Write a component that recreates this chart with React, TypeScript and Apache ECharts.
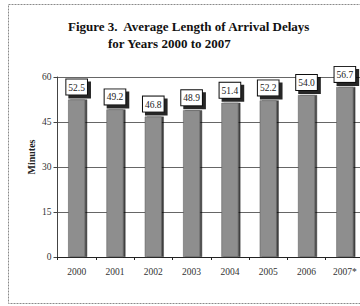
import React, { useEffect, useRef } from "react";
import * as echarts from "echarts";

const years = ["2000", "2001", "2002", "2003", "2004", "2005", "2006", "2007*"];
const delays = [52.5, 49.2, 46.8, 48.9, 51.4, 52.2, 54.0, 56.7];
const titleLine1 = "Figure 3.  Average Length of Arrival Delays";
const titleLine2 = "for Years 2000 to 2007";
const yAxisName = "Minutes";

const SERIF = "'Liberation Serif', 'Times New Roman', serif";

export default function App() {
  const ref = useRef<HTMLDivElement>(null);
  useEffect(() => {
    if (!ref.current) return;
    const chart = echarts.init(ref.current, undefined, { renderer: "svg" });
    chart.setOption({
      animation: false,
      backgroundColor: "#ffffff",
      title: [
        {
          text: titleLine1,
          left: 63,
          top: 15,
          textStyle: { fontFamily: SERIF, fontWeight: "bold", fontSize: 13, color: "#111" },
        },
        {
          text: titleLine2,
          left: 103,
          top: 32,
          textStyle: { fontFamily: SERIF, fontWeight: "bold", fontSize: 13, color: "#111" },
        },
      ],
      graphic: [
        {
          type: "rect",
          shape: { x: 8.5, y: 4.5, width: 400, height: 299 },
          style: { fill: "none", stroke: "#8a8a8a", lineWidth: 1, lineDash: [2, 1] },
          silent: true,
        },
        {
          type: "text",
          x: 31,
          y: 157,
          rotation: Math.PI / 2,
          style: {
            text: yAxisName,
            fontFamily: SERIF,
            fontWeight: "bold",
            fontSize: 10,
            fill: "#222",
            align: "center",
            verticalAlign: "middle",
          },
        },
      ],
      grid: { left: 57.5, top: 77, width: 306.5, height: 180 },
      xAxis: {
        type: "category",
        data: years,
        axisLine: { lineStyle: { color: "#222", width: 1 } },
        axisTick: { show: true, alignWithLabel: false, length: 3, inside: false, lineStyle: { color: "#222" } },
        axisLabel: { fontFamily: SERIF, fontSize: 9.5, color: "#333", margin: 10 },
      },
      yAxis: {
        type: "value",
        min: 0,
        max: 60,
        interval: 15,
        axisLine: { show: true, lineStyle: { color: "#444", width: 1 } },
        axisTick: { show: true, length: 4, lineStyle: { color: "#444" } },
        axisLabel: { fontFamily: SERIF, fontSize: 9.5, color: "#333", margin: 6 },
        splitLine: { show: true, lineStyle: { color: "#666", width: 1 } },
      },
      series: [
        {
          type: "bar",
          data: delays,
          barWidth: 17,
          itemStyle: {
            color: "#8e8e8e",
            borderColor: "#555",
            borderWidth: 0.5,
            shadowColor: "rgba(0,0,0,0.75)",
            shadowOffsetX: 2,
            shadowOffsetY: 0,
            shadowBlur: 0,
          },
          label: {
            show: true,
            position: "top",
            distance: 5,
            formatter: (p: any) => Number(p.value).toFixed(1),
            fontFamily: SERIF,
            fontSize: 9.5,
            color: "#222",
            backgroundColor: "#ffffff",
            borderColor: "#111",
            borderWidth: 1,
            padding: [3, 2, 2, 2],
            shadowColor: "rgba(0,0,0,0.85)",
            shadowOffsetX: 3,
            shadowOffsetY: 3,
            shadowBlur: 0,
          },
        },
      ],
    });
    return () => chart.dispose();
  }, []);
  return (
    <div
      style={{
        position: "fixed",
        left: 0,
        top: 0,
        width: 360,
        height: 306,
        overflow: "hidden",
        background: "#fff",
      }}
    >
      <div ref={ref} style={{ width: 380, height: 306 }} />
    </div>
  );
}
